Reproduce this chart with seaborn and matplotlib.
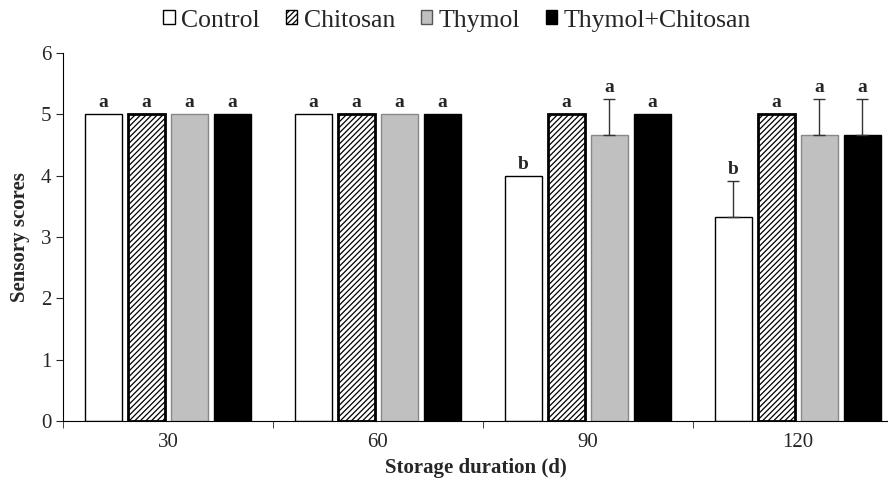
import matplotlib
matplotlib.use("Agg")
import matplotlib.pyplot as plt
import seaborn as sns
import pandas as pd
import numpy as np
from matplotlib.patches import Patch

days = ["30", "60", "90", "120"]
treatments = ["Control", "Chitosan", "Thymol", "Thymol+Chitosan"]
control = [5.0, 5.0, 4.0, 3.33]
chitosan = [5.0, 5.0, 5.0, 5.0]
thymol = [5.0, 5.0, 4.67, 4.67]
thymol_chitosan = [5.0, 5.0, 5.0, 4.67]
err_control = [0, 0, 0, 0.58]
err_chitosan = [0, 0, 0, 0]
err_thymol = [0, 0, 0.58, 0.58]
err_tc = [0, 0, 0, 0.58]
letters_control = ["a", "a", "b", "b"]
letters_chitosan = ["a", "a", "a", "a"]
letters_thymol = ["a", "a", "a", "a"]
letters_tc = ["a", "a", "a", "a"]

values = [control, chitosan, thymol, thymol_chitosan]
errs = [err_control, err_chitosan, err_thymol, err_tc]
letters = [letters_control, letters_chitosan, letters_thymol, letters_tc]

df = pd.DataFrame({
    "day": [d for _ in treatments for d in days],
    "treatment": [t for t in treatments for _ in days],
    "score": [v for vals in values for v in vals],
})

sns.set_style("ticks")
plt.rcParams["font.family"] = ["Liberation Serif", "DejaVu Serif"]
plt.rcParams["hatch.linewidth"] = 0.9

fig = plt.figure(figsize=(8.88, 4.86), dpi=100)
ax = fig.add_axes([0.071, 0.134, 0.929, 0.757])

facec = {"Control": "white", "Chitosan": "white", "Thymol": "#c0c0c0", "Thymol+Chitosan": "black"}
sns.barplot(data=df, x="day", y="score", hue="treatment", hue_order=treatments,
            order=days, palette=facec, width=0.82, gap=0.14, legend=False,
            errorbar=None, ax=ax, saturation=1)

edgec = {"Control": "black", "Chitosan": "black", "Thymol": "#888888", "Thymol+Chitosan": "black"}
lw = {"Control": 1.0, "Chitosan": 2.0, "Thymol": 1.0, "Thymol+Chitosan": 1.0}
bars = [p for p in ax.patches]
for ti, t in enumerate(treatments):
    for di in range(len(days)):
        p = bars[ti * len(days) + di]
        p.set_edgecolor(edgec[t])
        p.set_linewidth(lw[t])
        if t == "Chitosan":
            p.set_hatch("//////")
        xc = p.get_x() + p.get_width() / 2
        h = p.get_height()
        e = errs[ti][di]
        if e > 0:
            ax.errorbar(xc, h, yerr=[[0], [e]], fmt="none", ecolor="#333333",
                        elinewidth=1.0, capsize=4, capthick=1.0)
        ax.text(xc, h + e + 0.05, letters[ti][di], ha="center", va="bottom",
                fontsize=14, fontweight="bold")

ax.set_ylim(0, 6)
ax.set_xlim(-0.5, 3.43)
ax.set_yticks(range(7))
ax.set_xlabel("Storage duration (d)", fontsize=15, fontweight="bold", labelpad=4)
ax.set_ylabel("Sensory scores", fontsize=15, fontweight="bold", labelpad=8)
ax.tick_params(axis="y", labelsize=15, direction="out", length=5)
ax.tick_params(axis="x", which="major", labelsize=15, length=0, pad=9)
ax.set_xticks(np.arange(-0.5, 3.5, 1.0), minor=True)
ax.tick_params(axis="x", which="minor", length=5, direction="out")
for s in ["top", "right"]:
    ax.spines[s].set_visible(False)
ax.spines["bottom"].set_color("black")
ax.spines["left"].set_color("black")

handles = [Patch(facecolor=facec[t], edgecolor=edgec[t] if t != "Thymol" else "#555555",
                 hatch="//////" if t == "Chitosan" else None, linewidth=1.0) for t in treatments]
fig.legend(handles, treatments, loc="upper center", bbox_to_anchor=(0.515, 1.028), ncol=4,
           frameon=False, prop={"family": ["Liberation Serif"], "size": 18.5},
           handlelength=0.45, handleheight=0.45,
           handletextpad=0.25, columnspacing=1.0)

fig.savefig("out.png", dpi=100)
